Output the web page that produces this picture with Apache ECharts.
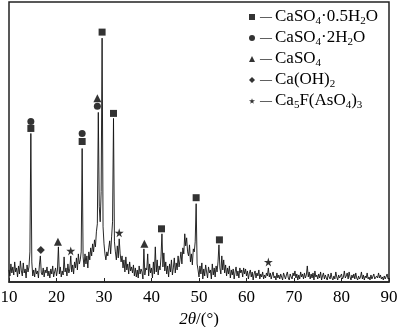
<!DOCTYPE html>
<html>
<head>
<meta charset="utf-8">
<script src="https://cdn.jsdelivr.net/npm/echarts@6/dist/echarts.min.js"></script>
<style>
  html, body { margin: 0; padding: 0; background: #fff; }
  #chart { width: 400px; height: 327px; }
</style>
</head>
<body>
<div id="chart"></div>
<script>
// XRD scan, 2θ from 10 to 90 in 0.2° steps (one row = 1°)
const startAngle = 10
const stepAngle = 0.2
const intensity = [
  12, 6, 18, 9, 15,
  7, 20, 10, 14, 5,
  16, 8, 21, 11, 6,
  19, 9, 13, 4, 17,
  10, 15, 30, 148, 20,
  6, 12, 5, 14, 8,
  11, 4, 17, 26, 9,
  7, 14, 5, 12, 9,
  15, 6, 11, 4, 13,
  8, 16, 5, 10, 14,
  6, 12, 35, 8, 15,
  5, 11, 7, 25, 10,
  14, 6, 18, 9, 13,
  26, 10, 17, 8, 20,
  14, 24, 12, 28, 18,
  22, 30, 133, 25, 15,
  28, 18, 26, 14, 30,
  22, 34, 26, 38, 30,
  42, 35, 50, 58, 169,
  75, 60, 90, 243, 55,
  38, 28, 22, 30, 26,
  34, 41, 28, 45, 60,
  163, 40, 30, 22, 36,
  24, 43, 28, 20, 26,
  14, 22, 10, 25, 12,
  18, 8, 20, 11, 15,
  9, 17, 6, 14, 5,
  12, 4, 16, 8, 13,
  10, 3, 33, 7, 14,
  12, 28, 6, 18, 9,
  14, 4, 20, 8, 35,
  10, 22, 7, 16, 12,
  25, 48, 15, 29, 11,
  20, 8, 16, 5, 18,
  10, 22, 7, 14, 24,
  9, 19, 12, 26, 15,
  22, 30, 18, 34, 28,
  48, 36, 44, 30, 26,
  37, 20, 28, 17, 33,
  30, 40, 78, 18, 12,
  5, 16, 8, 19, 3,
  13, 6, 17, 10, 4,
  15, 9, 12, 3, 18,
  7, 14, 5, 16, 10,
  20, 37, 14, 8, 26,
  12, 22, 9, 17, 6,
  14, 8, 16, 4, 12,
  7, 13, 3, 10, 15,
  6, 11, 4, 14, 9,
  12, 5, 14, 8, 13,
  6, 11, 3, 9, 12,
  5, 10, 2, 8, 11,
  4, 9, 6, 12, 3,
  8, 5, 10, 3, 7,
  4, 9, 6, 14, 5,
  9, 3, 7, 10, 4,
  6, 2, 9, 4, 7,
  3, 8, 5, 2, 9,
  6, 3, 7, 10, 4,
  2, 8, 5, 3, 9,
  6, 11, 4, 8, 2,
  7, 3, 10, 5, 8,
  3, 9, 4, 7, 16,
  5, 10, 3, 8, 4,
  9, 2, 11, 5, 7,
  3, 8, 4, 10, 2,
  6, 9, 3, 7, 4,
  2, 8, 5, 3, 9,
  4, 2, 6, 3, 10,
  5, 2, 7, 4, 3,
  8, 3, 5, 11, 4,
  6, 9, 3, 10, 5,
  2, 7, 4, 8, 3,
  9, 4, 2, 6, 3,
  5, 10, 3, 7, 2,
  6, 4, 9, 3, 5,
  2, 7, 3, 4, 8,
  3, 2, 6, 4, 9,
  4, 7, 3, 5, 2,
  6, 3, 4, 8, 3,
  4
]

// phase markers [2θ, height]
const hemihydrate = [[14.6, 153], [25.4, 140], [29.6, 249], [32.0, 168], [42.1, 53], [49.4, 84], [54.3, 42]]
const dihydrate = [[14.6, 160], [25.4, 148], [28.6, 175]]
const anhydrite = [[28.6, 183], [20.3, 40], [38.5, 38]]
const portlandite = [[16.7, 32]]
const apatite = [[23.0, 31], [33.2, 49], [64.6, 20]]

const xTicks = [10, 20, 30, 40, 50, 60, 70, 80, 90]

const phaseNames = ['CaSO4·0.5H2O', 'CaSO4·2H2O', 'CaSO4', 'Ca(OH)2', 'Ca5F(AsO4)3']
const phaseLabels = {
  'CaSO4·0.5H2O': '{t|CaSO}{s|4}{t|·0.5H}{s|2}{t|O}',
  'CaSO4·2H2O': '{t|CaSO}{s|4}{t|·2H}{s|2}{t|O}',
  'CaSO4': '{t|CaSO}{s|4}',
  'Ca(OH)2': '{t|Ca(OH)}{s|2}',
  'Ca5F(AsO4)3': '{t|Ca}{s|5}{t|F(AsO}{s|4}{t|)}{s|3}'
}

const star = 'path://M50,0 L61,35 L98,35 L68,57 L79,91 L50,70 L21,91 L32,57 L2,35 L39,35 Z'
const serif = '"Times New Roman", "Liberation Serif", serif'

const chart = echarts.init(document.getElementById('chart'))

const pattern = intensity.map((v, i) => [startAngle + i * stepAngle, v])

const markerSeries = (name, data, symbol, size) => ({
  name: name,
  type: 'scatter',
  data: data,
  symbol: symbol,
  symbolSize: size,
  itemStyle: { color: '#000' },
  z: 3
})

const option = {
  animation: false,
  grid: {
    left: 9,
    right: 11,
    top: 2,
    bottom: 45,
    outerBoundsMode: 'none',
    show: true,
    borderColor: '#222',
    borderWidth: 1.5
  },
  legend: {
    orient: 'vertical',
    left: 244,
    top: 2,
    itemWidth: 6,
    itemHeight: 6,
    itemGap: 1,
    data: [
      { name: phaseNames[0], icon: 'rect' },
      { name: phaseNames[1], icon: 'circle' },
      { name: phaseNames[2], icon: 'triangle' },
      { name: phaseNames[3], icon: 'diamond' },
      { name: phaseNames[4], icon: star }
    ],
    formatter: name => '{d|— }' + phaseLabels[name],
    textStyle: {
      color: '#000',
      fontFamily: serif,
      fontSize: 17,
      lineHeight: 17,
      rich: {
        d: { fontSize: 12, lineHeight: 17, fontFamily: serif, color: '#000' },
        t: { fontSize: 17, lineHeight: 17, fontFamily: serif, color: '#000' },
        s: { fontSize: 11, lineHeight: 8, padding: [9, 0, 0, 0], fontFamily: serif, color: '#000' }
      }
    }
  },
  xAxis: {
    type: 'value',
    min: 10,
    max: 90,
    interval: 10,
    name: '{i|2θ}/(°)',
    nameLocation: 'middle',
    nameGap: 24,
    nameTextStyle: {
      color: '#000',
      fontFamily: serif,
      fontSize: 17,
      rich: {
        i: { fontStyle: 'italic', fontFamily: serif, fontSize: 17, color: '#000' }
      }
    },
    axisLine: { lineStyle: { color: '#222', width: 1.5 } },
    axisTick: { inside: true, length: 4, lineStyle: { color: '#222' } },
    axisLabel: {
      color: '#000',
      fontFamily: serif,
      fontSize: 17,
      margin: 7,
      customValues: xTicks
    },
    splitLine: { show: false }
  },
  yAxis: {
    type: 'value',
    min: 0,
    max: 279,
    axisLine: { show: false },
    axisTick: { show: false },
    axisLabel: { show: false },
    splitLine: { show: false }
  },
  series: [
    {
      name: 'pattern',
      type: 'line',
      data: pattern,
      showSymbol: false,
      lineStyle: { color: '#111', width: 0.9 },
      silent: true,
      z: 2
    },
    markerSeries(phaseNames[0], hemihydrate, 'rect', 7),
    markerSeries(phaseNames[1], dihydrate, 'circle', 7),
    markerSeries(phaseNames[2], anhydrite, 'triangle', 8),
    markerSeries(phaseNames[3], portlandite, 'diamond', 8),
    markerSeries(phaseNames[4], apatite, star, 9)
  ]
}

chart.setOption(option)
</script>
</body>
</html>
